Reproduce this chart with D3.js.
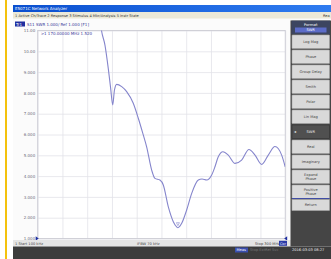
<!DOCTYPE html>
<html>
<head>
<meta charset="utf-8">
<script src="https://cdn.jsdelivr.net/npm/d3@7"></script>
<style>
  html,body{margin:0;padding:0;background:#fff;}
  svg{display:block;font-family:"DejaVu Sans",sans-serif;}
</style>
</head>
<body>
<div id="chart"></div>
<script>
// trace: frequency (MHz) and SWR
let freq = [0.1, 40, 70, 76, 77.4, 81.6, 85.6, 88.5, 91.0, 93.1, 95.8, 101.9, 107.9, 115.9, 122.0, 128.0, 132.1,
            138.2, 142.2, 148.2, 152.3, 158.3, 164.4, 168.5, 170.0, 174.6, 180.6, 186.7, 194.7, 199.2, 204.9,
            210.9, 214.9, 218.9, 224.6, 231.0, 239.2, 247.2, 256.1, 263.4, 271.5, 279.5, 287.6, 295.7, 300]
let swr  = [30, 20, 13, 11.4, 11.0, 10.30, 9.18, 8.22, 7.42, 8.14, 8.41, 8.30, 8.06, 7.50, 6.78, 5.98, 5.41,
            4.29, 3.89, 3.81, 3.57, 2.53, 1.81, 1.56, 1.52, 1.73, 2.37, 3.17, 3.81, 3.86, 3.81,
            4.05, 4.45, 4.93, 5.17, 5.01, 4.61, 4.77, 5.28, 5.01, 4.56, 5.01, 5.42, 5.01, 4.45]
let yTicks = [1, 2, 3, 4, 5, 6, 7, 8, 9, 10, 11]
let yTickLabels = ["1.000","2.000","3.000","4.000","5.000","6.000","7.000","8.000","9.000","10.00","11.00"]
let xDivs = [0.1, 30.09, 60.08, 90.07, 120.06, 150.05, 180.04, 210.03, 240.02, 270.01, 300]
let markerFreq = 170.0, markerSwr = 1.52
let softkeys = ["Log Mag","Phase","Group Delay","Smith","Polar","Lin Mag","SWR","Real","Imaginary","Expand\nPhase","Positive\nPhase"]

let width = 331, height = 259
let plot = { left:37.7, right:285.2, top:30.5, bottom:238.5 }

let svg = d3.select("#chart").append("svg").attr("width",width).attr("height",height)

// page + yellow stripe
svg.append("rect").attr("x",0).attr("y",0).attr("width",width).attr("height",height).attr("fill","#fff")
svg.append("rect").attr("x",5).attr("y",0).attr("width",2).attr("height",height).attr("fill","#f4c20d")

// window body
svg.append("rect").attr("x",13).attr("y",5).attr("width",318).attr("height",254).attr("fill","#fbfbfb")

// title bar
let grad = svg.append("defs").append("linearGradient").attr("id","tb")
grad.append("stop").attr("offset","0").attr("stop-color","#0a4fcf")
grad.append("stop").attr("offset","1").attr("stop-color","#2f7cf0")
svg.append("rect").attr("x",13).attr("y",5).attr("width",318).attr("height",7).attr("fill","url(#tb)")
svg.append("text").attr("x",15).attr("y",10.3).text("E5071C Network Analyzer")
  .attr("font-size",4).attr("fill","#fff")

// menu bar
svg.append("rect").attr("x",13).attr("y",12).attr("width",318).attr("height",6.5).attr("fill","#ece9d8")
svg.append("text").attr("x",15).attr("y",16.8)
  .text("1 Active Ch/Trace   2 Response   3 Stimulus   4 Mkr/Analysis   5 Instr State")
  .attr("font-size",3.6).attr("fill","#333")
svg.append("text").attr("x",323).attr("y",16.8).text("Rea").attr("font-size",3.6).attr("fill","#333")

// channel header
svg.append("rect").attr("x",15).attr("y",21.5).attr("width",10).attr("height",5).attr("fill","#1f2fa0")
svg.append("text").attr("x",16).attr("y",25.6).text("Tr1").attr("font-size",4).attr("fill","#fff")
svg.append("text").attr("x",27).attr("y",25.6).text("S11  SWR 1.000/  Ref 1.000  [F1]")
  .attr("font-size",4).attr("fill","#3a3a9a")

let x = d3.scaleLinear().domain([0.1,300]).range([plot.left,plot.right])
let y = d3.scaleLinear().domain([1,11]).range([plot.bottom,plot.top])

let g = svg.append("g")
g.append("rect").attr("x",plot.left).attr("y",plot.top)
  .attr("width",plot.right-plot.left).attr("height",plot.bottom-plot.top).attr("fill","#fff")

// grid through axes
let yAxis = d3.axisLeft(y).tickValues(yTicks).tickSize(-(plot.right-plot.left))
  .tickFormat((d,i)=>yTickLabels[i]).tickPadding(2.5)
let yGroup = g.append("g").attr("transform",`translate(${plot.left},0)`).call(yAxis)
yGroup.select(".domain").remove()
yGroup.selectAll("line").attr("stroke","#e2e2e8").attr("stroke-width",0.8)
yGroup.selectAll("text").attr("font-size",4).attr("fill","#6b6b7a").attr("font-family","DejaVu Sans")

let xAxis = d3.axisBottom(x).tickValues(xDivs).tickSize(-(plot.bottom-plot.top)).tickFormat("")
let xGroup = g.append("g").attr("transform",`translate(0,${plot.bottom})`).call(xAxis)
xGroup.select(".domain").remove()
xGroup.selectAll("line").attr("stroke","#e2e2e8").attr("stroke-width",0.8)

g.append("rect").attr("x",plot.left).attr("y",plot.top)
  .attr("width",plot.right-plot.left).attr("height",plot.bottom-plot.top)
  .attr("fill","none").attr("stroke","#c8c8d0").attr("stroke-width",0.8)

// trace
svg.select("defs").append("clipPath").attr("id","clip").append("rect")
  .attr("x",plot.left).attr("y",plot.top).attr("width",plot.right-plot.left).attr("height",plot.bottom-plot.top)
let line = d3.line().x(d=>x(d[0])).y(d=>y(d[1])).curve(d3.curveMonotoneX)
g.append("path").attr("d",line(d3.zip(freq,swr))).attr("clip-path","url(#clip)")
  .attr("fill","none").attr("stroke","#8585cc").attr("stroke-width",1.1)

// marker
let mx = x(markerFreq), my = y(markerSwr)
g.append("path").attr("d",`M${mx-1.5},${my-5}L${mx+1.5},${my-5}L${mx},${my-2}Z`).attr("fill","none")
  .attr("stroke","#8585cc").attr("stroke-width",0.6)
g.append("path").attr("d",`M${mx-2.2},${plot.bottom+5}L${mx+2.2},${plot.bottom+5}L${mx},${plot.bottom+1.5}Z`)
  .attr("fill","#1f2fa0")
// reference markers
g.append("path").attr("d",`M${plot.left-2},${y(1)-2.2}L${plot.left+1},${y(1)}L${plot.left-2},${y(1)+2.2}Z`).attr("fill","#1f2fa0")
g.append("path").attr("d",`M${plot.right+2},${y(1)-2.2}L${plot.right-1},${y(1)}L${plot.right+2},${y(1)+2.2}Z`).attr("fill","#1f2fa0")

// marker readout
g.append("text").attr("x",plot.left+3).attr("y",plot.top+4.5)
  .text(`>1   ${markerFreq.toFixed(5)} MHz   ${markerSwr.toFixed(3)}`)
  .attr("font-size",4).attr("fill","#3a3a9a")

// status row under plot
svg.append("rect").attr("x",13).attr("y",240).attr("width",278).attr("height",6.5).attr("fill","#e4e4e4")
svg.append("text").attr("x",15).attr("y",244.5).text("1  Start 100 kHz").attr("font-size",3.6).attr("fill","#444")
svg.append("text").attr("x",137).attr("y",244.5).text("IFBW 70 kHz").attr("font-size",3.6).attr("fill","#444")
svg.append("text").attr("x",255).attr("y",244.5).text("Stop 300 MHz").attr("font-size",3.6).attr("fill","#444")
svg.append("rect").attr("x",279).attr("y",240.8).attr("width",8).attr("height",5).attr("fill","#2a3aa8")
svg.append("text").attr("x",280).attr("y",244.5).text("Cor").attr("font-size",3.4).attr("fill","#fff")

// bottom bar
svg.append("rect").attr("x",13).attr("y",246.5).attr("width",318).attr("height",12.5).attr("fill","#3c3c3c")
svg.append("rect").attr("x",235).attr("y",247.5).attr("width",13).attr("height",5).attr("fill","#3a4fb0")
svg.append("text").attr("x",236.5).attr("y",251.3).text("Meas").attr("font-size",3.6).attr("fill","#fff")
svg.append("text").attr("x",250).attr("y",251.3).text("Stop  ExtRef  Svc").attr("font-size",3.6).attr("fill","#777")
svg.append("text").attr("x",292).attr("y",251.3).text("2016-03-03 08:27").attr("font-size",3.6).attr("fill","#eee")

// softkey panel
svg.append("rect").attr("x",290.5).attr("y",20.5).attr("width",40.5).attr("height",226).attr("fill","#454545")
svg.append("rect").attr("x",291.5).attr("y",20.7).attr("width",38.5).attr("height",13.5).attr("fill","#3c4560")
svg.append("text").attr("x",310.7).attr("y",25.5).text("Format").attr("font-size",3.8)
  .attr("fill","#fff").attr("text-anchor","middle")
svg.append("rect").attr("x",295).attr("y",27.5).attr("width",31.5).attr("height",5).attr("fill","#5c6cc8")
svg.append("text").attr("x",310.7).attr("y",31.2).text("SWR").attr("font-size",3.6)
  .attr("fill","#fff").attr("text-anchor","middle")

let keys = svg.append("g").selectAll("g").data(softkeys).enter().append("g")
  .attr("transform",(d,i)=>`translate(292,${35+i*15})`)
keys.append("rect").attr("width",37.5).attr("height",13.6).attr("rx",0.6)
  .attr("fill",d=>d=="SWR" ? "#505050" : "#d9d9d9")
  .attr("stroke",d=>d=="SWR" ? "#333" : "#a8a8a8").attr("stroke-width",0.6)
keys.each(function(d){
  let parts = d.split("\n")
  let t = d3.select(this)
  parts.forEach((p,j)=>{
    t.append("text").attr("x",18.75).attr("y",parts.length==1 ? 8.2 : 5.9+j*4.2).text(p)
      .attr("font-size",3.6).attr("text-anchor","middle").attr("fill",d=="SWR" ? "#eee" : "#444")
  })
})
svg.append("text").attr("x",294).attr("y",35+6*15+8.2).text("\u25c2").attr("font-size",4).attr("fill","#eee")
svg.append("rect").attr("x",292).attr("y",198).attr("width",37.5).attr("height",0.8).attr("fill","#2a3aa8")
svg.append("rect").attr("x",292).attr("y",199.5).attr("width",37.5).attr("height",11).attr("fill","#d9d9d9")
  .attr("stroke","#a8a8a8").attr("stroke-width",0.6)
svg.append("text").attr("x",310.75).attr("y",206.2).text("Return").attr("font-size",3.6)
  .attr("text-anchor","middle").attr("fill","#444")
</script>
</body>
</html>
